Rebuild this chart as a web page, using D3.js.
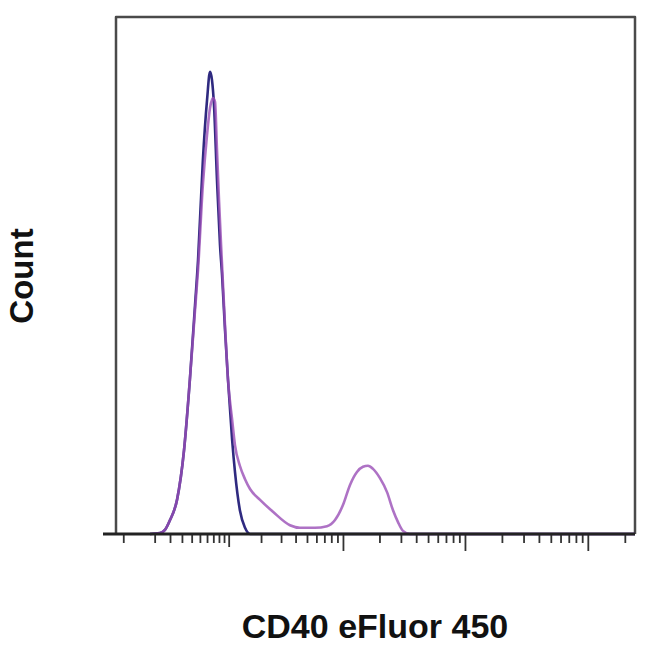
<!DOCTYPE html>
<html>
<head>
<meta charset="utf-8">
<script src="https://cdn.jsdelivr.net/npm/d3@7"></script>
<style>
  html, body { margin: 0; padding: 0; background: #fff; }
  svg { display: block; }
</style>
</head>
<body>
<svg id="chart" width="650" height="646"></svg>
<script>
// ---- data ----
const isotypeX = [7.5, 13.2, 16.4, 20, 25.6, 32, 38, 43.9, 47.6, 54, 60, 64.6, 67.8, 71.1, 76.4, 82, 86, 92, 98.5, 108, 115, 128, 143, 159, 242000];
const isotypeY = [0, 0.2, 0.8, 2.7, 6.6, 16.2, 29.8, 44.3, 53.0, 72.3, 83.9, 89.4, 87.8, 83.0, 68.5, 55.9, 50.1, 39.5, 29.8, 18.2, 12.0, 4.6, 1.2, 0, 0];

const stainedX = [7.5, 13.2, 16.4, 20, 25.6, 32, 38, 43.9, 47.6, 54, 60, 64.6, 69.5, 72.9, 76.4, 80.1, 86, 92, 98.5, 108, 115, 128, 143, 159, 196, 255, 358, 436, 584, 736, 859, 1000, 1144, 1306, 1464, 1610, 1770, 2020, 2308, 2584, 2840, 3120, 3560, 242000];
const stainedY = [0, 0.2, 0.8, 2.7, 6.6, 16.2, 29.8, 43.3, 51.1, 67.5, 77.2, 82.4, 84.3, 83.6, 74.3, 64.6, 52.0, 40.4, 29.8, 22.1, 17.2, 13.2, 10.6, 8.7, 6.6, 4.3, 1.7, 1.2, 1.2, 1.5, 2.7, 5.6, 9.5, 12.0, 13.0, 13.2, 12.6, 10.8, 8.1, 4.6, 2.3, 0.6, 0, 0];

const majorTicks = [1000, 10000, 100000];
const midTicks = [100];
const minorTicks = [-4, 10, 20, 30, 40, 50, 60, 70, 80, 90,
  200, 300, 400, 500, 600, 700, 800, 900,
  2000, 3000, 4000, 5000, 6000, 7000, 8000, 9000,
  20000, 30000, 40000, 50000, 60000, 70000, 80000, 90000, 200000];

const xDomain = [-7.5, 242000];
const yDomain = [0, 100];
const xLabel = "CD40 eFluor 450";
const yLabel = "Count";

// ---- layout ----
const plotL = 116, plotR = 635, plotT = 17, plotB = 534;
const svg = d3.select("#chart");

const x = d3.scaleSymlog().constant(20).domain(xDomain).range([plotL, plotR]);
const y = d3.scaleLinear().domain(yDomain).range([plotB, plotT]);

// frame
svg.append("path")
  .attr("d", `M${plotL},${plotB} V${plotT} H${plotR} V${plotB}`)
  .attr("fill", "none")
  .attr("stroke", "#4a4a4a")
  .attr("stroke-width", 2.5)
  .attr("stroke-linejoin", "round");

// curves
const line = d3.line()
  .x(d => x(d[0]))
  .y(d => y(d[1]))
  .curve(d3.curveMonotoneX);

const iso = isotypeX.map((v, i) => [v, isotypeY[i]]);
const stn = stainedX.map((v, i) => [v, stainedY[i]]);

svg.append("path")
  .attr("d", line(iso))
  .attr("fill", "none")
  .attr("stroke", "#2f2a80")
  .attr("stroke-width", 2.6);

svg.append("path")
  .attr("d", line(stn))
  .attr("fill", "none")
  .attr("stroke", "#9a4fb6")
  .attr("stroke-width", 2.6)
  .attr("stroke-opacity", 0.8);

// axis ticks
function tickAxis(vals, len) {
  const g = svg.append("g")
    .attr("transform", `translate(0,${plotB})`)
    .call(d3.axisBottom(x).tickValues(vals).tickSize(len).tickFormat(""));
  g.select(".domain").remove();
  g.selectAll(".tick line").attr("stroke", "#333").attr("stroke-width", 1.8);
}
tickAxis(minorTicks, 9);
tickAxis(midTicks, 13);
tickAxis(majorTicks, 17);

// bottom axis line (extends slightly past the frame on the left)
svg.append("line")
  .attr("x1", x.range()[0] - 13).attr("x2", x.range()[1])
  .attr("y1", plotB).attr("y2", plotB)
  .attr("stroke", "#222")
  .attr("stroke-width", 2.8);

// labels
svg.append("text")
  .attr("x", 375)
  .attr("y", 638)
  .attr("text-anchor", "middle")
  .attr("font-family", "Liberation Sans, Arial, sans-serif")
  .attr("font-weight", "bold")
  .attr("font-size", 34)
  .attr("fill", "#111")
  .text(xLabel);

svg.append("text")
  .attr("transform", "translate(33,276) rotate(-90)")
  .attr("text-anchor", "middle")
  .attr("font-family", "Liberation Sans, Arial, sans-serif")
  .attr("font-weight", "bold")
  .attr("font-size", 33)
  .attr("fill", "#111")
  .text(yLabel);
</script>
</body>
</html>
